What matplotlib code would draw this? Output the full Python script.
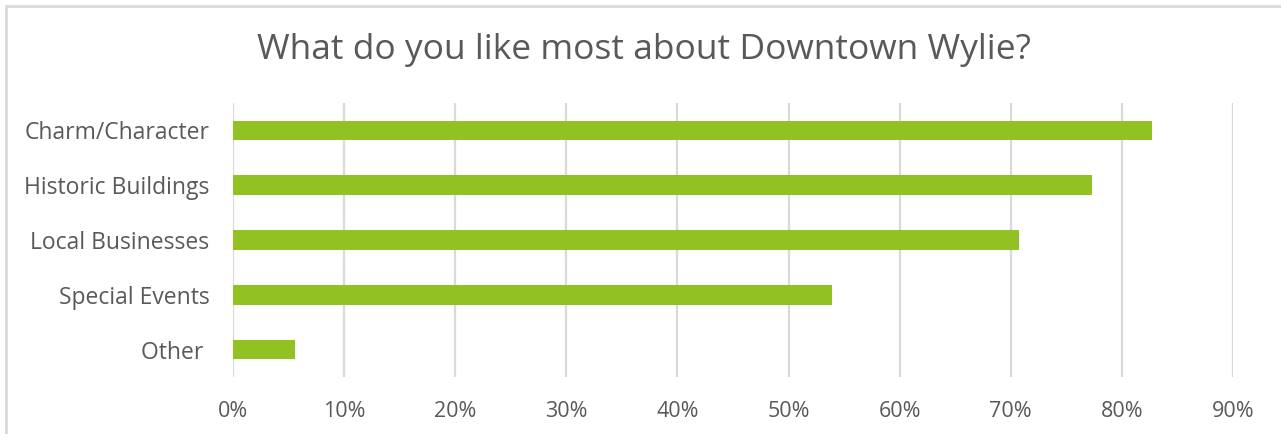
import matplotlib.pyplot as plt
from matplotlib.patches import Rectangle
from matplotlib.ticker import FuncFormatter

categories = ["Charm/Character", "Historic Buildings", "Local Businesses", "Special Events", "Other "]
values = [0.827, 0.773, 0.707, 0.539, 0.056]
x_ticks = [0.0, 0.1, 0.2, 0.3, 0.4, 0.5, 0.6, 0.7, 0.8, 0.9]

text_color = '#595959'
bar_color = '#92C123'
grid_color = '#D9D9D9'

plt.rcParams['font.family'] = ['Open Sans', 'DejaVu Sans']

W, H = 1281, 434
fig = plt.figure(figsize=(W / 100, H / 100), dpi=100)
ax = fig.add_axes([233 / W, 1 - 377 / H, 1000 / W, 274 / H])

# chart border (cut off at right and bottom, like the screenshot)
fig.patches.append(Rectangle((6 / W, -0.1), 1.2, 1 - 6 / H + 0.1, transform=fig.transFigure,
                             fill=False, edgecolor=grid_color, linewidth=2))

y_pos = list(range(len(categories)))
ax.barh(y_pos, values, height=0.36, color=bar_color, zorder=3)
ax.set_ylim(len(categories) - 0.5, -0.5)
ax.set_xlim(0, 0.9)

ax.set_yticks(y_pos)
ax.set_yticklabels(categories)
ax.set_xticks(x_ticks)
ax.xaxis.set_major_formatter(FuncFormatter(lambda v, p: f"{v * 100:.0f}%"))
ax.tick_params(axis='both', length=0, colors=text_color)
ax.tick_params(axis='x', pad=17, labelsize=15.5)
ax.tick_params(axis='y', pad=17, labelsize=16.5)

ax.grid(True, axis='x', color=grid_color, linewidth=1.6, zorder=0)
for s in ax.spines.values():
    s.set_visible(False)

fig.text(644 / W, 1 - 50 / H, "What do you like most about Downtown Wylie?", ha='center', va='center',
         fontsize=25.5, color=text_color)

fig.savefig("out.png", dpi=100)
